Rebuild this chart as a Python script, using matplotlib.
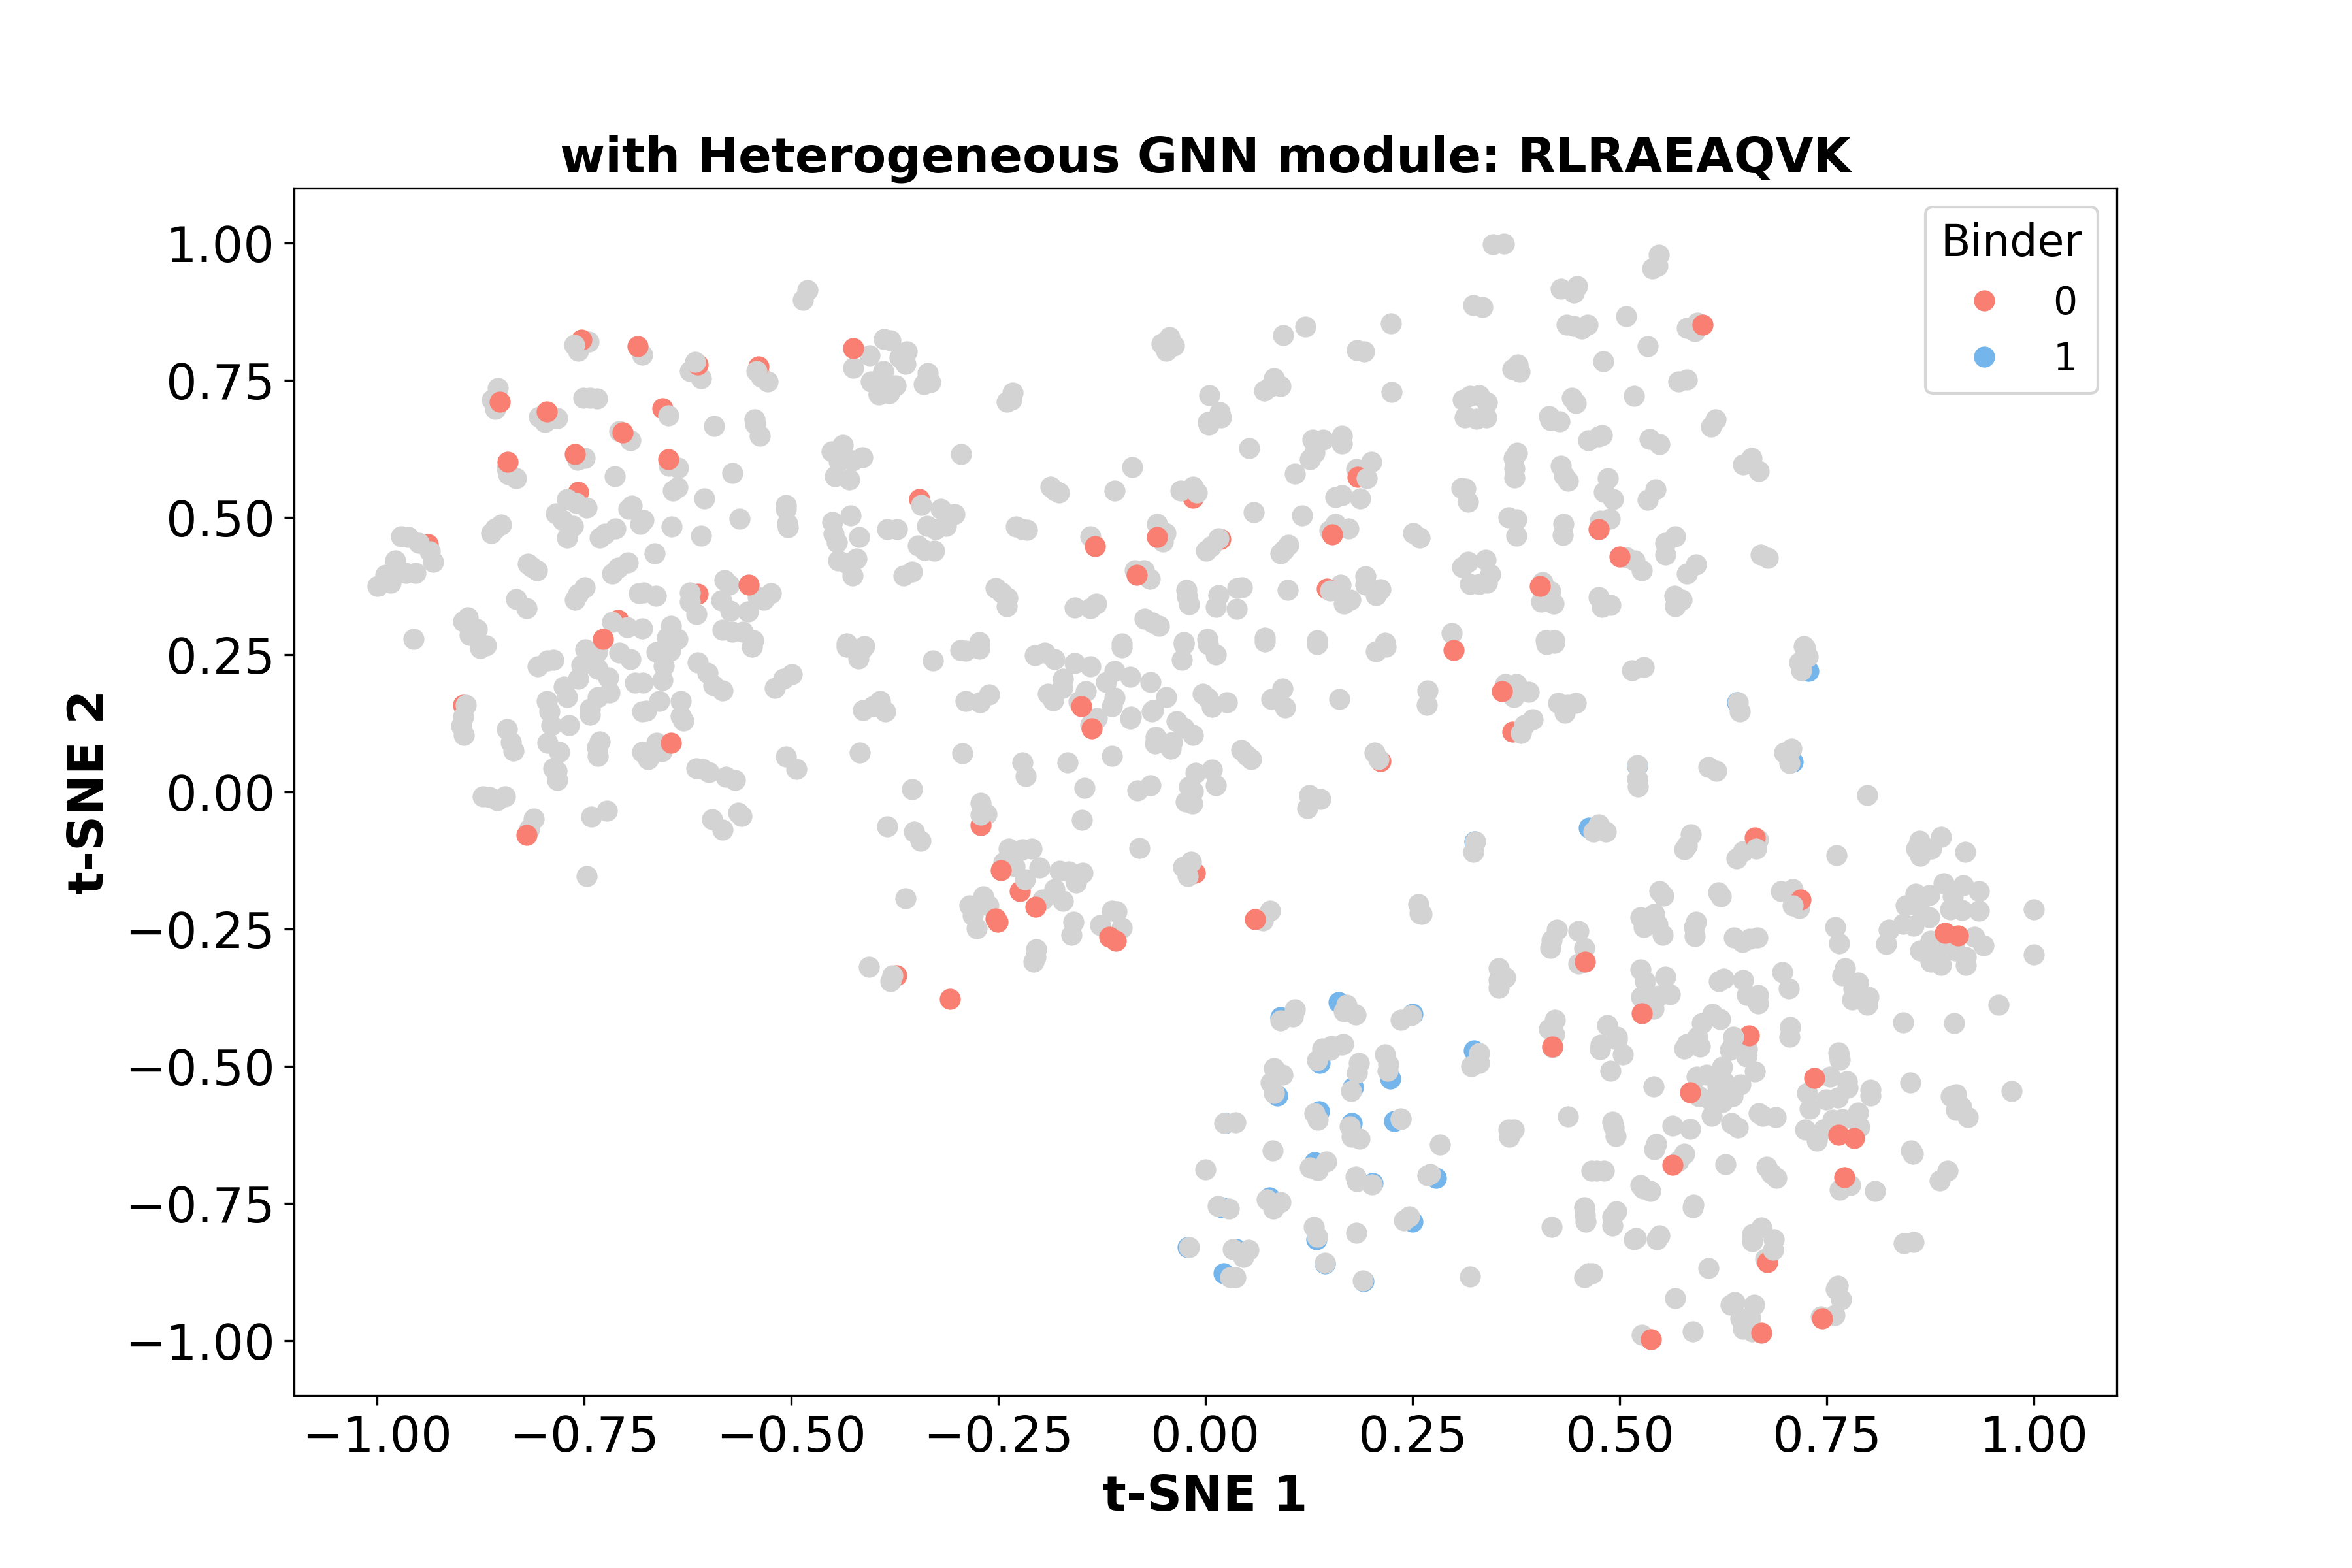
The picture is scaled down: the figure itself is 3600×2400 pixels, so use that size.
import numpy as np
import matplotlib
matplotlib.use("Agg")
import matplotlib.pyplot as plt

TITLE = "with Heterogeneous GNN module: RLRAEAQVK"
X_LABEL = "t-SNE 1"
Y_LABEL = "t-SNE 2"
TICKS = [-1.0, -0.75, -0.5, -0.25, 0.0, 0.25, 0.5, 0.75, 1.0]

blue_points = [
(0.728,0.220),(0.642,0.163),(0.709,0.055),(0.521,0.048),(0.463,-0.065),(0.325,-0.091),
(0.161,-0.383),(0.091,-0.411),(0.250,-0.405),(0.138,-0.494),(0.324,-0.472),(0.223,-0.523),
(0.087,-0.553),(0.178,-0.538),(0.137,-0.582),(0.177,-0.604),(0.228,-0.600),(0.024,-0.604),
(0.132,-0.675),(0.202,-0.713),(0.278,-0.703),(0.077,-0.739),(0.020,-0.757),(0.250,-0.783),
(0.134,-0.816),(-0.021,-0.830),(0.037,-0.833),(0.022,-0.877),(0.144,-0.860),(0.191,-0.892),
]

red_under = [
(-0.757,0.547),(-0.938,0.451),
(-0.613,0.361),(-0.709,0.313),(-0.345,0.533),(-0.015,0.536),(0.018,0.461),
(-0.896,0.158),(0.211,0.056),
(-0.373,-0.335),(0.371,0.110),
]

gray_points = [
# upper left
(-0.480,0.914),(-0.486,0.897),(-0.762,0.814),(-0.744,0.820),(-0.757,0.804),(-0.680,0.796),
(-0.616,0.783),(-0.622,0.767),(-0.609,0.753),(-0.542,0.767),(-0.536,0.756),(-0.528,0.748),
(-0.425,0.773),(-0.405,0.795),(-0.388,0.825),(-0.404,0.748),(-0.394,0.725),(-0.854,0.736),
(-0.861,0.714),(-0.857,0.698),(-0.751,0.718),(-0.743,0.718),(-0.734,0.717),(-0.804,0.683),
(-0.797,0.674),(-0.782,0.681),(-0.648,0.686),(-0.593,0.667),(-0.544,0.679),(-0.543,0.670),
(-0.538,0.649),(-0.707,0.657),(-0.694,0.641),(-0.438,0.632),(-0.451,0.620),(-0.442,0.602),
(-0.426,0.604),(-0.414,0.610),(-0.447,0.575),(-0.430,0.569),(-0.843,0.589),(-0.841,0.578),
(-0.832,0.572),(-0.758,0.605),(-0.749,0.608),(-0.647,0.594),(-0.636,0.591),(-0.713,0.575),
(-0.571,0.581),(-0.637,0.555),(-0.643,0.549),(-0.605,0.534),(-0.506,0.523),(-0.506,0.515),
(-0.428,0.503),(-0.450,0.492),(-0.449,0.470),(-0.445,0.455),(-0.418,0.464),(-0.505,0.489),
(-0.504,0.482),(-0.562,0.498),(-0.644,0.483),(-0.609,0.467),(-0.770,0.533),(-0.759,0.526),
(-0.747,0.518),(-0.692,0.521),(-0.696,0.516),(-0.678,0.495),(-0.682,0.488),(-0.784,0.507),
(-0.776,0.495),(-0.763,0.484),(-0.770,0.463),(-0.850,0.487),(-0.857,0.480),(-0.862,0.471),
(-0.712,0.480),(-0.725,0.470),(-0.731,0.463),(-0.971,0.466),(-0.962,0.464),(-0.949,0.454),
(-0.936,0.438),(-0.932,0.419),(-0.978,0.422),(-0.965,0.399),(-0.953,0.399),(-0.990,0.395),
(-0.983,0.381),(-0.999,0.375),(-0.665,0.435),(-0.818,0.415),(-0.813,0.409),(-0.807,0.404),
(-0.697,0.418),(-0.709,0.408),(-0.716,0.398),(-0.580,0.386),(-0.575,0.377),(-0.524,0.362),
(-0.533,0.350),(-0.540,0.355),(-0.749,0.373),(-0.757,0.361),(-0.761,0.350),(-0.684,0.362),
(-0.678,0.363),(-0.663,0.357),(-0.622,0.363),(-0.622,0.346),(-0.614,0.324),(-0.584,0.349),
(-0.573,0.330),(-0.552,0.328),(-0.443,0.422),(-0.433,0.417),(-0.421,0.425),(-0.426,0.394),
(-0.832,0.351),(-0.819,0.335),(-0.890,0.318),(-0.896,0.311),(-0.879,0.297),(-0.888,0.286),
(-0.956,0.278),(-0.716,0.309),(-0.698,0.300),(-0.680,0.298),(-0.645,0.302),(-0.650,0.281),
(-0.637,0.278),(-0.583,0.295),(-0.571,0.292),(-0.558,0.292),(-0.546,0.276),(-0.433,0.270),
(-0.412,0.265),
# upper middle
(-0.380,0.823),(-0.360,0.802),(-0.369,0.792),(-0.362,0.780),(-0.335,0.763),(-0.332,0.747),
(-0.340,0.743),(-0.389,0.767),(-0.374,0.741),(-0.393,0.738),(-0.382,0.726),(-0.394,0.724),
(-0.233,0.727),(-0.234,0.714),(-0.240,0.711),(-0.043,0.828),(-0.053,0.817),(-0.038,0.813),
(-0.047,0.804),(0.094,0.832),(0.121,0.848),(0.224,0.854),(0.183,0.805),(0.192,0.802),
(0.225,0.729),(0.005,0.723),(0.083,0.753),(0.091,0.739),(0.078,0.738),(0.071,0.731),
(0.017,0.692),(0.019,0.682),(0.003,0.674),(0.004,0.669),(0.311,0.714),(0.313,0.682),
(-0.295,0.616),(0.053,0.626),(0.129,0.642),(0.142,0.642),(0.165,0.649),(0.165,0.634),
(0.132,0.618),(0.126,0.606),(0.200,0.601),(0.182,0.588),(0.108,0.580),(0.195,0.571),
(-0.088,0.592),(-0.110,0.549),(-0.030,0.549),(-0.015,0.556),(-0.010,0.545),(-0.187,0.556),
(-0.181,0.549),(-0.177,0.545),(0.157,0.537),(0.165,0.540),(0.187,0.534),(0.309,0.554),
(-0.343,0.523),(-0.319,0.515),(-0.303,0.506),(-0.336,0.484),(-0.326,0.478),(-0.313,0.484),
(-0.384,0.478),(-0.372,0.479),(-0.347,0.449),(-0.339,0.441),(-0.327,0.439),(-0.364,0.394),
(-0.354,0.401),(-0.229,0.483),(-0.221,0.479),(-0.215,0.477),(-0.139,0.465),(-0.058,0.488),
(-0.048,0.472),(-0.051,0.456),(0.058,0.509),(0.117,0.504),(0.016,0.462),(0.007,0.448),
(0.001,0.439),(0.100,0.450),(0.095,0.441),(0.091,0.434),(0.157,0.488),(0.150,0.476),
(0.173,0.480),(0.251,0.471),(0.259,0.463),(0.310,0.409),(-0.085,0.404),(-0.074,0.403),
(-0.067,0.388),(-0.253,0.371),(-0.246,0.363),(-0.239,0.354),(-0.240,0.338),(-0.158,0.336),
(-0.139,0.334),(-0.132,0.343),(-0.023,0.368),(-0.022,0.356),(-0.020,0.342),(0.016,0.358),
(0.013,0.337),(0.039,0.372),(0.044,0.373),(0.038,0.333),(0.099,0.368),(0.151,0.367),
(0.163,0.377),(0.193,0.393),(0.193,0.377),(0.211,0.369),(0.206,0.358),(0.175,0.350),
(0.167,0.343),(-0.073,0.315),(-0.064,0.308),(-0.056,0.302),(0.297,0.289),(0.072,0.281),
(0.002,0.278),(-0.026,0.273),(0.135,0.276),(0.217,0.271),(-0.101,0.270),(-0.273,0.273),
# upper right
(0.347,0.998),(0.360,0.999),(0.547,0.979),(0.546,0.958),(0.539,0.953),(0.429,0.917),
(0.449,0.921),(0.445,0.909),(0.323,0.887),(0.334,0.883),(0.508,0.867),(0.436,0.851),
(0.445,0.849),(0.454,0.844),(0.461,0.851),(0.581,0.845),(0.591,0.839),(0.594,0.855),
(0.534,0.812),(0.480,0.784),(0.377,0.778),(0.371,0.770),(0.379,0.765),(0.571,0.748),
(0.581,0.751),(0.517,0.721),(0.319,0.722),(0.330,0.723),(0.340,0.710),(0.314,0.685),
(0.327,0.680),(0.339,0.682),(0.442,0.718),(0.447,0.708),(0.415,0.685),(0.416,0.677),
(0.427,0.675),(0.616,0.679),(0.610,0.666),(0.462,0.640),(0.475,0.648),(0.479,0.650),
(0.536,0.643),(0.548,0.633),(0.659,0.608),(0.649,0.597),(0.668,0.585),(0.376,0.618),
(0.372,0.608),(0.373,0.589),(0.373,0.573),(0.429,0.594),(0.433,0.576),(0.438,0.567),
(0.486,0.571),(0.481,0.546),(0.492,0.533),(0.543,0.551),(0.534,0.532),(0.314,0.552),
(0.317,0.528),(0.366,0.500),(0.375,0.496),(0.375,0.467),(0.432,0.488),(0.431,0.468),
(0.476,0.494),(0.488,0.498),(0.567,0.465),(0.555,0.454),(0.555,0.432),(0.508,0.427),
(0.518,0.422),(0.527,0.403),(0.592,0.414),(0.581,0.398),(0.670,0.432),(0.679,0.426),
(0.317,0.419),(0.338,0.423),(0.344,0.397),(0.340,0.381),(0.330,0.379),(0.319,0.378),
(0.407,0.382),(0.416,0.366),(0.405,0.347),(0.420,0.343),(0.475,0.355),(0.479,0.337),
(0.489,0.340),(0.566,0.357),(0.575,0.350),(0.567,0.338),(0.411,0.276),(0.421,0.276),
(0.722,0.265),
# lower left
(-0.875,0.262),(-0.868,0.267),(-0.806,0.228),(-0.794,0.239),(-0.787,0.241),(-0.748,0.260),
(-0.734,0.255),(-0.707,0.253),(-0.694,0.242),(-0.662,0.255),(-0.646,0.257),(-0.654,0.230),
(-0.655,0.203),(-0.753,0.231),(-0.733,0.224),(-0.721,0.208),(-0.757,0.206),(-0.774,0.192),
(-0.770,0.173),(-0.719,0.181),(-0.733,0.173),(-0.743,0.151),(-0.743,0.140),(-0.688,0.199),
(-0.679,0.199),(-0.613,0.236),(-0.601,0.217),(-0.594,0.194),(-0.583,0.185),(-0.547,0.264),
(-0.433,0.264),(-0.415,0.260),(-0.419,0.243),(-0.499,0.214),(-0.509,0.206),(-0.520,0.189),
(-0.413,0.149),(-0.401,0.156),(-0.795,0.166),(-0.792,0.147),(-0.789,0.122),(-0.768,0.122),
(-0.659,0.165),(-0.680,0.147),(-0.675,0.148),(-0.633,0.166),(-0.633,0.138),(-0.630,0.130),
(-0.893,0.158),(-0.896,0.137),(-0.898,0.120),(-0.895,0.104),(-0.843,0.114),(-0.838,0.090),
(-0.835,0.075),(-0.794,0.089),(-0.780,0.073),(-0.731,0.092),(-0.734,0.081),(-0.733,0.066),
(-0.662,0.089),(-0.680,0.073),(-0.656,0.074),(-0.673,0.060),(-0.417,0.072),(-0.506,0.064),
(-0.494,0.042),(-0.614,0.043),(-0.607,0.042),(-0.599,0.036),(-0.579,0.027),(-0.568,0.022),
(-0.787,0.043),(-0.783,0.038),(-0.782,0.022),(-0.872,-0.008),(-0.864,-0.010),(-0.855,-0.016),
(-0.845,-0.008),(-0.811,-0.049),(-0.816,-0.068),(-0.741,-0.045),(-0.722,-0.034),(-0.595,-0.050),
(-0.583,-0.069),(-0.564,-0.038),(-0.560,-0.044),(-0.747,-0.153),(-0.406,-0.319),
# lower middle
(-0.329,0.239),(-0.296,0.258),(-0.289,0.257),(-0.273,0.261),(-0.206,0.249),(-0.194,0.253),
(-0.182,0.242),(-0.158,0.235),(-0.139,0.228),(-0.101,0.263),(-0.110,0.220),(-0.120,0.200),
(-0.091,0.209),(-0.066,0.200),(-0.047,0.173),(-0.172,0.206),(-0.173,0.189),(-0.190,0.179),
(-0.184,0.167),(-0.144,0.183),(-0.153,0.164),(-0.110,0.172),(-0.113,0.156),(-0.289,0.166),
(-0.272,0.163),(-0.261,0.177),(-0.393,0.166),(-0.386,0.147),(-0.131,0.134),(-0.139,0.123),
(-0.090,0.137),(-0.091,0.133),(-0.063,0.149),(-0.065,0.147),(-0.035,0.129),(-0.026,0.117),
(-0.015,0.103),(-0.003,0.179),(0.003,0.170),(0.008,0.155),(0.026,0.163),(-0.026,0.269),
(-0.028,0.241),(0.003,0.269),(0.013,0.250),(0.072,0.274),(0.135,0.269),(0.206,0.256),
(0.218,0.264),(0.080,0.169),(0.093,0.188),(0.096,0.153),(0.162,0.169),(0.268,0.184),
(0.267,0.158),(-0.060,0.100),(-0.061,0.088),(-0.040,0.090),(-0.042,0.079),(-0.293,0.070),
(-0.221,0.053),(-0.217,0.029),(-0.166,0.053),(-0.113,0.066),(0.043,0.076),(0.050,0.067),
(0.055,0.060),(0.204,0.071),(0.209,0.060),(-0.012,0.034),(0.008,0.041),(0.013,0.012),
(-0.020,0.010),(-0.015,0.001),(-0.024,-0.018),(-0.016,-0.021),(-0.354,0.005),(-0.146,0.007),
(-0.082,0.002),(-0.066,0.012),(0.125,-0.006),(0.139,-0.013),(0.123,-0.030),(-0.271,-0.020),
(-0.271,-0.042),(-0.264,-0.040),(-0.149,-0.051),(-0.384,-0.063),(-0.352,-0.073),(-0.344,-0.089),
(-0.080,-0.102),(-0.237,-0.103),(-0.221,-0.105),(-0.210,-0.104),(-0.244,-0.129),(-0.230,-0.136),
(-0.200,-0.138),(-0.218,-0.160),(-0.176,-0.144),(-0.165,-0.145),(-0.148,-0.148),(-0.156,-0.166),
(-0.027,-0.137),(-0.017,-0.127),(-0.021,-0.153),(-0.182,-0.177),(-0.196,-0.196),(-0.172,-0.199),
(-0.268,-0.190),(-0.285,-0.207),(-0.262,-0.207),(-0.281,-0.225),(-0.276,-0.249),(-0.362,-0.194),
(0.257,-0.205),(0.259,-0.221),(0.261,-0.223),(-0.113,-0.217),(-0.107,-0.218),(-0.127,-0.243),
(-0.101,-0.248),(-0.159,-0.237),(-0.162,-0.261),(0.078,-0.217),(0.069,-0.235),(-0.204,-0.287),
(-0.205,-0.301),(-0.207,-0.310),(-0.378,-0.335),(-0.380,-0.345),(0.108,-0.396),(0.106,-0.409),
(0.091,-0.417),(0.170,-0.388),(0.167,-0.400),(0.181,-0.406),(0.236,-0.415),(0.248,-0.407),
(0.166,-0.459),(0.152,-0.463),(0.141,-0.468),
# right band
(0.412,0.269),(0.421,0.272),(0.724,0.262),(0.727,0.246),(0.717,0.236),(0.719,0.221),
(0.515,0.222),(0.529,0.227),(0.362,0.196),(0.375,0.196),(0.390,0.182),(0.372,0.173),
(0.426,0.162),(0.447,0.162),(0.437,0.158),(0.434,0.144),(0.395,0.132),(0.385,0.121),
(0.381,0.107),(0.643,0.163),(0.645,0.147),(0.707,0.078),(0.699,0.071),(0.705,0.052),
(0.521,0.049),(0.521,0.024),(0.522,0.010),(0.607,0.045),(0.617,0.038),(0.799,-0.006),
(0.326,-0.091),(0.323,-0.109),(0.475,-0.059),(0.468,-0.073),(0.483,-0.073),(0.586,-0.077),
(0.581,-0.098),(0.578,-0.105),(0.667,-0.087),(0.665,-0.103),(0.649,-0.108),(0.641,-0.122),
(0.762,-0.115),(0.862,-0.089),(0.888,-0.082),(0.858,-0.103),(0.876,-0.103),(0.863,-0.117),
(0.917,-0.109),(0.891,-0.167),(0.915,-0.170),(0.934,-0.181),(0.857,-0.186),(0.874,-0.188),
(0.902,-0.190),(0.845,-0.207),(0.899,-0.214),(0.913,-0.216),(0.934,-0.217),(0.861,-0.209),
(0.874,-0.229),(0.842,-0.241),(0.855,-0.244),(0.825,-0.251),(0.822,-0.277),(0.760,-0.246),
(0.765,-0.276),(1.000,-0.214),(1.000,-0.297),(0.928,-0.264),(0.939,-0.280),(0.875,-0.272),
(0.863,-0.289),(0.887,-0.282),(0.905,-0.289),(0.918,-0.301),(0.918,-0.316),(0.875,-0.310),
(0.888,-0.315),(0.548,-0.181),(0.553,-0.189),(0.619,-0.183),(0.622,-0.191),(0.695,-0.181),
(0.709,-0.177),(0.709,-0.207),(0.717,-0.212),(0.424,-0.251),(0.418,-0.270),(0.416,-0.285),
(0.450,-0.253),(0.457,-0.284),(0.450,-0.313),(0.525,-0.228),(0.542,-0.223),(0.529,-0.247),
(0.546,-0.242),(0.552,-0.261),(0.592,-0.237),(0.590,-0.247),(0.591,-0.263),(0.638,-0.265),
(0.648,-0.274),(0.657,-0.268),(0.666,-0.266),(0.354,-0.322),(0.362,-0.338),(0.354,-0.343),
(0.354,-0.357),(0.525,-0.324),(0.531,-0.345),(0.555,-0.337),(0.526,-0.374),(0.547,-0.372),
(0.561,-0.369),(0.541,-0.395),(0.620,-0.345),(0.625,-0.340),(0.649,-0.343),(0.654,-0.370),
(0.667,-0.370),(0.667,-0.386),(0.696,-0.329),(0.704,-0.358),(0.772,-0.322),(0.769,-0.334),
(0.788,-0.348),(0.782,-0.360),(0.800,-0.374),(0.781,-0.379),(0.799,-0.388),(0.842,-0.420),
(0.904,-0.422),(0.957,-0.388),(0.422,-0.415),(0.415,-0.432),(0.421,-0.442),(0.485,-0.425),
(0.497,-0.447),(0.477,-0.461),(0.612,-0.405),(0.621,-0.414),(0.599,-0.422),(0.594,-0.447),
(0.581,-0.459),(0.637,-0.447),(0.706,-0.428),(0.705,-0.447),(0.636,-0.463),(0.764,-0.475),
# bottom cluster
(0.165,-0.461),(0.151,-0.470),(0.143,-0.472),(0.135,-0.489),(0.185,-0.494),(0.183,-0.512),
(0.217,-0.478),(0.221,-0.497),(0.220,-0.508),(0.330,-0.476),(0.330,-0.494),(0.321,-0.500),
(0.083,-0.503),(0.093,-0.515),(0.079,-0.530),(0.083,-0.549),(0.176,-0.545),(0.132,-0.586),
(0.136,-0.598),(0.174,-0.610),(0.177,-0.628),(0.186,-0.632),(0.236,-0.595),(0.236,-0.597),
(0.023,-0.604),(0.036,-0.602),(0.081,-0.653),(0.000,-0.688),(0.283,-0.643),(0.366,-0.616),
(0.372,-0.615),(0.367,-0.628),(0.438,-0.592),(0.491,-0.601),(0.493,-0.611),(0.495,-0.627),
(0.126,-0.685),(0.136,-0.689),(0.146,-0.674),(0.181,-0.701),(0.183,-0.710),(0.201,-0.715),
(0.268,-0.699),(0.271,-0.697),(0.466,-0.690),(0.472,-0.690),(0.481,-0.690),(0.015,-0.755),
(0.028,-0.759),(0.074,-0.743),(0.091,-0.748),(0.082,-0.760),(0.246,-0.774),(0.240,-0.781),
(0.457,-0.757),(0.458,-0.772),(0.459,-0.783),(0.496,-0.764),(0.491,-0.774),(0.491,-0.790),
(0.418,-0.793),(0.131,-0.793),(0.135,-0.811),(0.182,-0.803),(-0.020,-0.830),(0.033,-0.833),
(0.052,-0.834),(0.046,-0.848),(0.030,-0.885),(0.036,-0.885),(0.144,-0.858),(0.190,-0.890),
(0.319,-0.883),(0.457,-0.885),(0.462,-0.877),(0.467,-0.877),(0.517,-0.816),(0.497,-0.451),
(0.504,-0.479),(0.476,-0.469),(0.489,-0.508),(0.419,-0.466),
# bottom right
(0.578,-0.468),(0.597,-0.464),(0.633,-0.470),(0.654,-0.468),(0.653,-0.482),(0.663,-0.509),
(0.765,-0.480),(0.766,-0.488),(0.541,-0.537),(0.624,-0.501),(0.593,-0.519),(0.605,-0.515),
(0.618,-0.521),(0.626,-0.529),(0.646,-0.533),(0.618,-0.537),(0.636,-0.555),(0.624,-0.565),
(0.609,-0.561),(0.595,-0.555),(0.611,-0.590),(0.754,-0.519),(0.774,-0.527),(0.775,-0.539),
(0.803,-0.543),(0.803,-0.554),(0.851,-0.530),(0.973,-0.545),(0.726,-0.549),(0.749,-0.561),
(0.763,-0.557),(0.729,-0.577),(0.906,-0.551),(0.900,-0.555),(0.912,-0.574),(0.906,-0.580),
(0.920,-0.593),(0.668,-0.586),(0.673,-0.591),(0.688,-0.593),(0.635,-0.604),(0.643,-0.612),
(0.564,-0.608),(0.585,-0.614),(0.788,-0.585),(0.757,-0.598),(0.769,-0.596),(0.789,-0.611),
(0.724,-0.615),(0.746,-0.616),(0.738,-0.636),(0.544,-0.642),(0.542,-0.651),(0.578,-0.660),
(0.571,-0.673),(0.628,-0.678),(0.677,-0.683),(0.683,-0.695),(0.689,-0.704),(0.852,-0.654),
(0.854,-0.660),(0.896,-0.691),(0.886,-0.708),(0.778,-0.717),(0.766,-0.725),(0.808,-0.727),
(0.525,-0.717),(0.537,-0.727),(0.528,-0.723),(0.589,-0.752),(0.588,-0.757),(0.671,-0.794),
(0.660,-0.806),(0.660,-0.819),(0.686,-0.815),(0.676,-0.851),(0.548,-0.808),
(0.545,-0.815),(0.520,-0.813),(0.843,-0.823),(0.855,-0.820),(0.607,-0.868),(0.763,-0.900),
(0.761,-0.906),(0.767,-0.925),(0.567,-0.923),(0.639,-0.930),(0.634,-0.935),(0.662,-0.934),
(0.646,-0.959),(0.658,-0.958),(0.649,-0.979),(0.660,-0.983),(0.743,-0.956),(0.759,-0.954),
(0.588,-0.983),(0.527,-0.989),
]

red_over = [
(-0.852,0.711),(-0.795,0.693),(-0.685,0.812),(-0.425,0.808),(-0.703,0.655),(-0.761,0.615),
(-0.842,0.601),(-0.648,0.606),(-0.551,0.377),(-0.727,0.278),(-0.058,0.464),(-0.133,0.448),
(-0.083,0.395),(0.153,0.469),(0.600,0.851),(0.475,0.478),(0.500,0.429),(0.404,0.375),
(-0.645,0.089),(-0.819,-0.079),(-0.150,0.156),(-0.137,0.115),(-0.247,-0.143),(-0.205,-0.210),
(0.060,-0.232),(-0.116,-0.264),(-0.108,-0.271),(-0.308,-0.377),(-0.251,-0.237),(-0.253,-0.231),
(0.300,0.258),(0.358,0.183),(0.527,-0.404),(0.458,-0.309),(0.419,-0.464),(0.893,-0.257),
(0.908,-0.262),(0.735,-0.521),(0.585,-0.548),(0.764,-0.625),(0.783,-0.631),(0.564,-0.680),
(0.771,-0.702),(0.744,-0.960),(0.671,-0.986),(0.538,-0.998),
(-0.753,0.824),(-0.613,0.779),(-0.539,0.775),(-0.655,0.699),(0.184,0.574),(0.147,0.370),
(0.663,-0.083),(0.718,-0.197),(0.678,-0.857),(0.656,-0.444),(-0.224,-0.181),(-0.271,-0.061),
(-0.013,-0.148),
]

# gray points that sit above the red ones they overlap
gray_top = [
(-0.762,0.814),(-0.616,0.783),(-0.542,0.767),(-0.648,0.686),(0.195,0.571),(0.151,0.367),
(0.665,-0.103),(0.709,-0.207),(0.685,-0.835),(0.637,-0.447),(-0.218,-0.160),(-0.271,-0.042),
(-0.021,-0.153),(-0.017,-0.127),
]

RED = "#F87F72"
BLUE = "#74B6EC"
GRAY = "#D3D3D3"
MARKER_AREA = 60


def draw(ax, pts, color, z):
    arr = np.array(pts)
    ax.scatter(arr[:, 0], arr[:, 1], s=MARKER_AREA, c=color, linewidths=0, zorder=z)


fig, ax = plt.subplots(figsize=(12, 8), dpi=300)
draw(ax, blue_points, BLUE, 2)
draw(ax, red_under, RED, 3)
draw(ax, [p for p in gray_points if p not in gray_top], GRAY, 4)
draw(ax, red_over, RED, 5)
draw(ax, gray_top, GRAY, 6)

handles = [
    plt.Line2D([], [], linestyle="none", marker="o", markersize=np.sqrt(MARKER_AREA), color=RED, markeredgewidth=0, label="0"),
    plt.Line2D([], [], linestyle="none", marker="o", markersize=np.sqrt(MARKER_AREA), color=BLUE, markeredgewidth=0, label="1"),
]
ax.legend(handles=handles, title="Binder", loc="upper right", fontsize=14, title_fontsize=16)

ax.set_xlim(-1.1, 1.1)
ax.set_ylim(-1.1, 1.1)
ax.set_xticks(TICKS)
ax.set_yticks(TICKS)
ax.tick_params(labelsize=18)
ax.set_xlabel(X_LABEL, fontsize=18, fontweight="bold")
ax.set_ylabel(Y_LABEL, fontsize=18, fontweight="bold")
ax.set_title(TITLE, fontsize=18, fontweight="bold")
fig.savefig("out.png", dpi=300)
